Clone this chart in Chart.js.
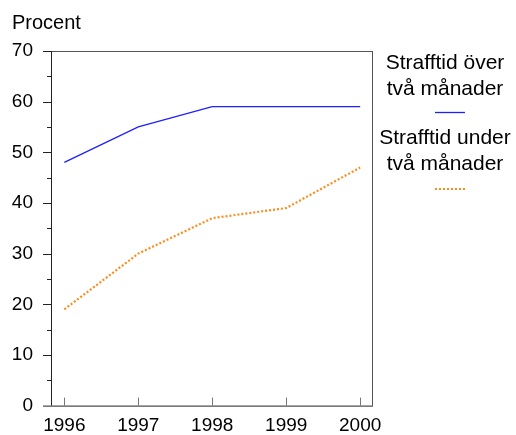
<!DOCTYPE html>
<html lang="sv">
  <head>
    <meta charset="UTF-8">
    <title>Strafftid</title>
    <style>
      body { margin: 0; background: #fff; }
      #wrap { width: 516px; height: 435px; }
    </style>
  </head>
  <body>
    <div id="wrap"><canvas id="myChart" width="516" height="435"></canvas></div>

    <script src="https://cdn.jsdelivr.net/npm/chart.js"></script>
    <script>
      const years = [1996, 1997, 1998, 1999, 2000];
      const over = [48, 55, 59, 59, 59];
      const under = [19, 30, 37, 39, 47];
      const yTicks = [0, 10, 20, 30, 40, 50, 60, 70];
      const seriesNames = [["Strafftid över", "två månader"], ["Strafftid under", "två månader"]];
      const yTitle = "Procent";

      const font = "Liberation Sans, Arial, sans-serif";
      const blue = "#1f1fff";
      const orange = "#ff8c1a";

      // axis ticks, frame, title and legend drawn by hand
      const decor = {
        id: "decor",
        afterDraw(chart) {
          const c = chart.ctx, a = chart.chartArea;
          const xs = chart.scales.x, ys = chart.scales.y;
          c.save();
          c.strokeStyle = "#555";
          c.lineWidth = 1;
          c.beginPath();
          c.moveTo(a.left, a.top + 0.5); c.lineTo(a.right, a.top + 0.5);
          c.moveTo(a.right + 0.5, a.top); c.lineTo(a.right + 0.5, a.bottom);
          c.stroke();
          c.strokeStyle = "#222";
          c.beginPath();
          c.moveTo(a.left + 0.5, a.top); c.lineTo(a.left + 0.5, a.bottom);
          c.moveTo(a.left - 8, a.bottom + 0.5); c.lineTo(a.right + 1, a.bottom + 0.5);
          for (let v = 5; v <= 70; v += 5) {
            const y = Math.round(ys.getPixelForValue(v)) + 0.5;
            c.moveTo(a.left - (v % 10 === 0 ? 8 : 4), y); c.lineTo(a.left, y);
          }
          c.stroke();
          c.strokeStyle = "#777";
          c.beginPath();
          years.forEach(yr => {
            const x = Math.round(xs.getPixelForValue(yr)) + 0.5;
            c.moveTo(x, a.bottom); c.lineTo(x, a.bottom - 8);
          });
          c.stroke();

          c.fillStyle = "#000";
          c.font = "20px " + font;
          c.textBaseline = "alphabetic";
          c.textAlign = "left";
          c.fillText(yTitle, 12, 29);

          // legend
          c.textAlign = "center";
          c.font = "21px " + font;
          const cx = 445;
          c.fillText(seriesNames[0][0], cx, 69);
          c.fillText(seriesNames[0][1], cx, 95);
          c.fillText(seriesNames[1][0], cx, 144);
          c.fillText(seriesNames[1][1], cx, 170);
          c.strokeStyle = blue; c.lineWidth = 1.3;
          c.beginPath(); c.moveTo(435, 112.5); c.lineTo(465, 112.5); c.stroke();
          c.strokeStyle = orange; c.lineWidth = 2.2; c.setLineDash([2, 2]);
          c.beginPath(); c.moveTo(435, 189); c.lineTo(465, 189); c.stroke();
          c.restore();
        }
      };

      const ctx = document.getElementById("myChart");
      const chart = new Chart(ctx, {
        type: "line",
        data: {
          datasets: [
            { label: seriesNames[0].join(" "), data: years.map((y, i) => ({ x: y, y: over[i] })),
              borderColor: blue, borderWidth: 1.3, pointRadius: 0, tension: 0 },
            { label: seriesNames[1].join(" "), data: years.map((y, i) => ({ x: y, y: under[i] })),
              borderColor: orange, borderWidth: 2.2, borderDash: [2, 2], pointRadius: 0, tension: 0 },
          ],
        },
        options: {
          responsive: false,
          animation: false,
          layout: { padding: { top: 51, right: 144, left: 0, bottom: 0 } },
          plugins: { legend: { display: false }, tooltip: { enabled: false } },
          scales: {
            x: {
              type: "linear", min: 1995.82, max: 2000.16,
              afterBuildTicks: s => { s.ticks = years.map(v => ({ value: v })); },
              afterFit: s => { s.height = 27; },
              grid: { display: false, drawTicks: false },
              border: { display: false },
              ticks: { padding: 9, color: "#000", font: { family: font, size: 19 }, callback: v => String(v) },
            },
            y: {
              min: 0, max: 70,
              afterBuildTicks: s => { s.ticks = yTicks.map(v => ({ value: v })); },
              afterFit: s => { s.width = 51; },
              grid: { display: false, drawTicks: false },
              border: { display: false },
              ticks: { padding: 18, color: "#000", font: { family: font, size: 19 } },
            },
          },
        },
        plugins: [decor],
      });
    </script>
  </body>
</html>
